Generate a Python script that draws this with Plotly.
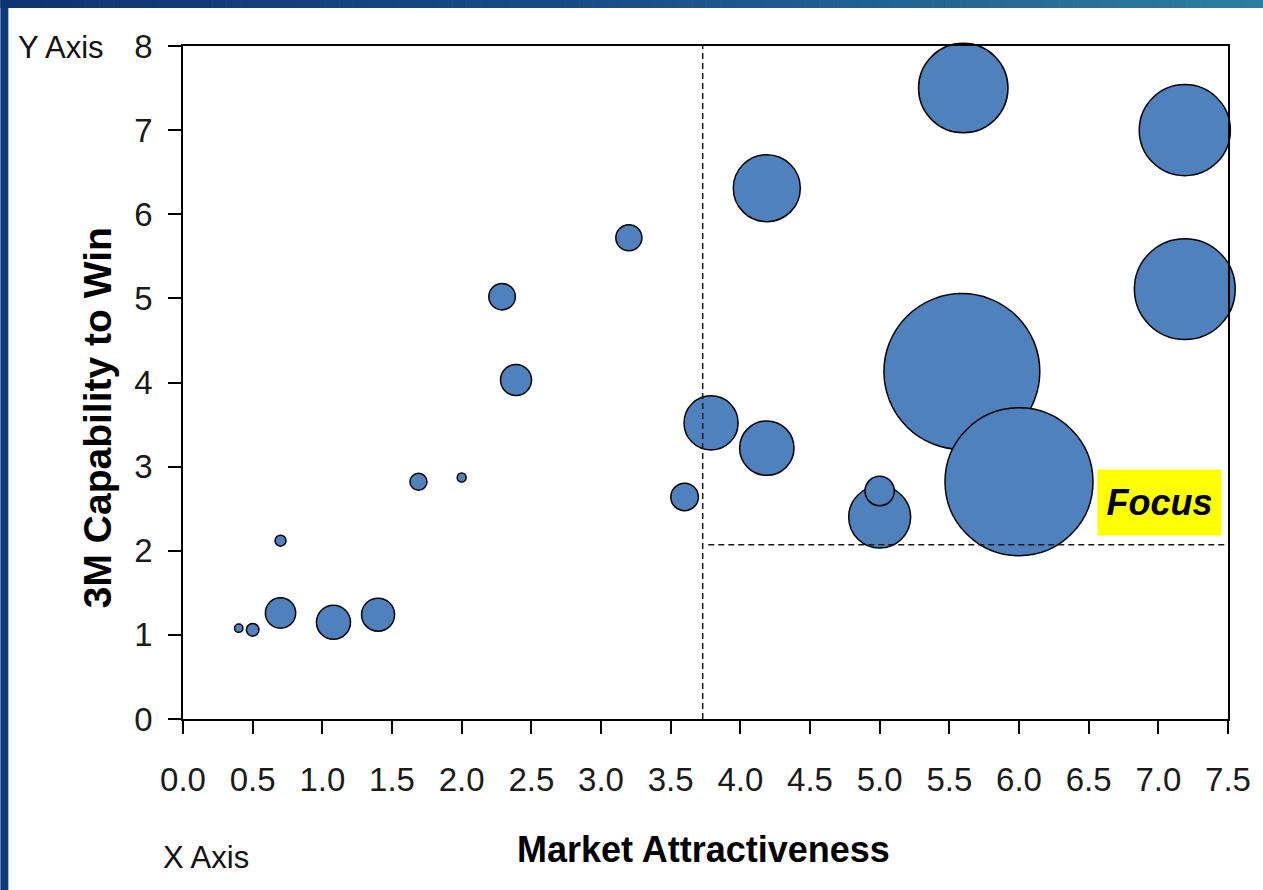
import plotly.graph_objects as go

# Opportunity portfolio: market attractiveness vs. 3M capability to win,
# bubble area proportional to opportunity size.
market_attractiveness = [0.40, 0.50, 0.70, 0.70, 1.08, 1.40, 1.69, 2.00, 2.29, 2.39, 3.20,
                         3.60, 3.79, 4.19, 4.19, 5.00, 5.00, 5.60, 7.19, 7.19, 5.59, 6.00]
capability_to_win = [1.08, 1.06, 1.26, 2.12, 1.15, 1.24, 2.82, 2.87, 5.02, 4.03, 5.72,
                     2.64, 3.52, 3.22, 6.31, 2.40, 2.71, 7.50, 7.00, 5.11, 4.13, 2.82]
opportunity_size = [0.7, 1.6, 9.2, 1.2, 11.6, 10.9, 2.9, 0.8, 7.0, 9.6, 6.8,
                    7.6, 29.2, 29.6, 44.9, 38.4, 8.6, 80.0, 83.0, 101.6, 243.0, 219.0]

x_tick_values = [0.0, 0.5, 1.0, 1.5, 2.0, 2.5, 3.0, 3.5, 4.0, 4.5, 5.0, 5.5, 6.0, 6.5, 7.0, 7.5]
x_tick_labels = ["0.0", "0.5", "1.0", "1.5", "2.0", "2.5", "3.0", "3.5",
                 "4.0", "4.5", "5.0", "5.5", "6.0", "6.5", "7.0", "7.5"]
y_tick_values = [0, 1, 2, 3, 4, 5, 6, 7, 8]

# Focus quadrant thresholds
attractiveness_cut = 3.73
capability_cut = 2.07
focus_x_end = 7.55

W, H = 1263, 890
L, R, T, B = 183, 33, 46, 171
PW, PH = W - L - R, H - T - B

FONT = "Liberation Sans, Arial, Helvetica, sans-serif"


def px_x(p):
    return (p - L) / PW


def px_y(p):
    return (H - B - p) / PH


def mix(c1, c2, t):
    a = [int(c1[i:i + 2], 16) for i in (1, 3, 5)]
    b = [int(c2[i:i + 2], 16) for i in (1, 3, 5)]
    return "#%02x%02x%02x" % tuple(round(a[k] + (b[k] - a[k]) * t) for k in range(3))


fig = go.Figure()
fig.add_trace(go.Scatter(
    x=market_attractiveness,
    y=capability_to_win,
    mode="markers",
    cliponaxis=False,
    marker=dict(
        size=opportunity_size,
        sizemode="area",
        sizeref=0.02,
        color="#4f81bd",
        opacity=1,
        line=dict(color="#000000", width=1.5),
    ),
    hoverinfo="skip",
    showlegend=False,
))

shapes = []
# Slide frame: dark blue strip on the left, gradient band across the top
shapes.append(dict(type="rect", xref="paper", yref="paper",
                   x0=px_x(0), x1=px_x(8), y0=px_y(H + 5), y1=px_y(0),
                   fillcolor="#103b7a", line=dict(width=0), layer="below"))
n_seg = 90
for i in range(n_seg):
    t = i / (n_seg - 1)
    if t < 0.5:
        col = mix("#0e3470", "#1a4f88", t / 0.5)
    else:
        col = mix("#1a4f88", "#2c7f9f", (t - 0.5) / 0.5)
    shapes.append(dict(type="rect", xref="paper", yref="paper",
                       x0=px_x((W + 10) * i / n_seg), x1=px_x((W + 10) * (i + 1) / n_seg + 0.6),
                       y0=px_y(8), y1=px_y(-2),
                       fillcolor=col, line=dict(width=0), layer="below"))

# Quadrant divider lines
shapes.append(dict(type="line", xref="x", yref="y",
                   x0=attractiveness_cut, x1=attractiveness_cut, y0=0, y1=8,
                   line=dict(color="#1a1a1a", width=1.5, dash="6px,4px"), layer="above"))
shapes.append(dict(type="line", xref="x", yref="y",
                   x0=attractiveness_cut + 0.04, x1=focus_x_end,
                   y0=capability_cut, y1=capability_cut,
                   line=dict(color="#1a1a1a", width=1.5, dash="6px,4px"), layer="above"))

annotations = [
    dict(text="Y Axis", xref="paper", yref="paper", x=px_x(61), y=px_y(48),
         xanchor="center", yanchor="middle", showarrow=False,
         font=dict(family=FONT, size=31, color="#111111")),
    dict(text="X Axis", xref="paper", yref="paper", x=px_x(206), y=px_y(857),
         xanchor="center", yanchor="middle", showarrow=False,
         font=dict(family=FONT, size=31, color="#111111")),
    dict(text="<b>Market Attractiveness</b>", xref="paper", yref="paper",
         x=px_x(704), y=px_y(849), xanchor="center", yanchor="middle", showarrow=False,
         font=dict(family=FONT, size=36, color="#000000")),
    dict(text="<b>3M Capability to Win</b>", xref="paper", yref="paper",
         x=px_x(97), y=px_y(418), xanchor="center", yanchor="middle", showarrow=False,
         textangle=-90, font=dict(family=FONT, size=39, color="#000000")),
    dict(text="<b><i>Focus</i></b>", xref="paper", yref="paper",
         x=px_x(1161.5), y=px_y(502.5), xanchor="center", yanchor="middle", showarrow=False,
         width=119, height=61, borderpad=2, bgcolor="#ffff00",
         font=dict(family=FONT, size=36, color="#000000")),
]

axis_common = dict(
    showline=True, linecolor="#000000", linewidth=1.7, mirror=True,
    ticks="outside", ticklen=13, tickwidth=1.7, tickcolor="#000000",
    showgrid=False, zeroline=False, fixedrange=True,
    tickfont=dict(family=FONT, size=33, color="#1a1a1a"),
)

fig.update_layout(
    width=W, height=H,
    margin=dict(l=L, r=R, t=T, b=B, pad=0),
    paper_bgcolor="#ffffff",
    plot_bgcolor="#ffffff",
    shapes=shapes,
    annotations=annotations,
    xaxis=dict(range=[0, 7.5], tickvals=x_tick_values, ticktext=x_tick_labels,
               ticklabelstandoff=18, **axis_common),
    yaxis=dict(range=[0, 8], tickvals=y_tick_values, ticklabelstandoff=9, **axis_common),
)

fig.write_html("out.html", config={"displayModeBar": False})
